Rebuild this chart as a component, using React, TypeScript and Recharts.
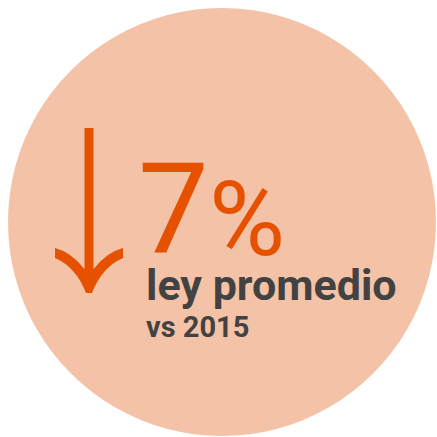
import { Pie, PieChart, Cell, Label } from "recharts";

// single full circle badge
const slices = ["ley promedio"];
const sliceValues = [100];
const headline = "7";
const headlineUnit = "%";
const caption = "ley promedio";
const subCaption = "vs 2015";

const CIRCLE = "#f4c2a6";
const ORANGE = "#e65100";
const INK = "#424242";

const data = slices.map((name, i) => ({ name, value: sliceValues[i] }));

function DownArrow({ x, top, bottom }: { x: number; top: number; bottom: number }) {
  const w = 34;
  const headTop = bottom - 45;
  const d = [
    `M ${x - 4.5} ${top}`,
    `L ${x + 4.5} ${top}`,
    `L ${x + 4.5} ${bottom - 24}`,
    `Q ${x + 18} ${headTop + 4} ${x + w} ${headTop}`,
    `L ${x + w} ${headTop + 10}`,
    `Q ${x + 13} ${bottom - 26} ${x + 3} ${bottom}`,
    `L ${x - 3} ${bottom}`,
    `Q ${x - 13} ${bottom - 26} ${x - w} ${headTop + 10}`,
    `L ${x - w} ${headTop}`,
    `Q ${x - 18} ${headTop + 4} ${x - 4.5} ${bottom - 24}`,
    "Z",
  ].join(" ");
  return <path d={d} fill={ORANGE} />;
}

function renderBadge(props: any) {
  const vb = props.viewBox || {};
  const cx = vb.cx ?? 222;
  const cy = vb.cy ?? 222;
  return (
    <g>
      <DownArrow x={cx - 133} top={cy - 94} bottom={cy + 71} />
      <text x={cx - 84} y={cy + 30} fill={ORANGE} fontFamily="Roboto" fontWeight={400} fontSize={126}>
        {headline}
      </text>
      <text x={cx - 13} y={cy + 33} fill={ORANGE} fontFamily="Roboto" fontWeight={400} fontSize={104}>
        {headlineUnit}
      </text>
      <text x={cx - 76} y={cy + 78} fill={INK} fontFamily="Roboto" fontWeight={700} fontSize={43}>
        {caption}
      </text>
      <text x={cx - 76} y={cy + 115} fill={INK} fontFamily="Roboto" fontWeight={700} fontSize={29}>
        {subCaption}
      </text>
    </g>
  );
}

export default function App() {
  return (
    <div style={{ position: "absolute", left: 0, top: 0 }}>
      <PieChart width={437} height={437} margin={{ top: 0, right: 0, bottom: 0, left: 0 }}>
        <Pie
          data={data}
          dataKey="value"
          nameKey="name"
          cx={222}
          cy={222}
          innerRadius={0}
          outerRadius={214}
          startAngle={90}
          endAngle={-270}
          stroke="none"
          isAnimationActive={false}
        >
          {data.map((d) => (
            <Cell key={d.name} fill={CIRCLE} />
          ))}
          <Label position="center" content={renderBadge} />
        </Pie>
      </PieChart>
    </div>
  );
}
